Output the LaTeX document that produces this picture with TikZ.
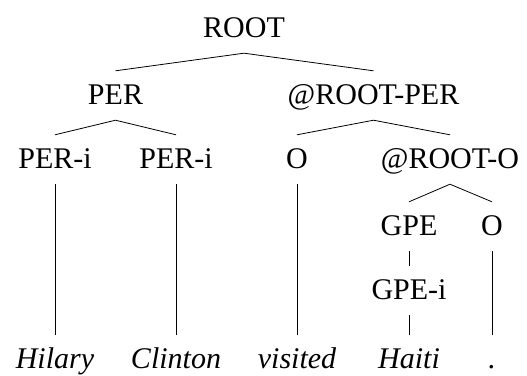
\documentclass[tikz,border=0pt]{standalone}
\usepackage{fontspec}
\setmainfont{Liberation Serif}
\begin{document}
\begin{tikzpicture}[x=1pt,y=-1pt,
  lab/.style={anchor=base,font=\fontsize{30}{36}\selectfont,inner xsep=0pt,inner ysep=8pt,text height=25pt,text depth=8pt},
  word/.style={lab,font=\fontsize{30}{36}\selectfont\itshape},
  edge/.style={draw,line width=0.8pt}]
\useasboundingbox (0,0) rectangle (527,375);
% internal labels
\node[lab] (root) at (244,37) {ROOT};
\node[lab] (per) at (115.5,104) {PER};
\node[lab] (rper) at (373.5,104) {@ROOT-PER};
\node[lab] (peri1) at (55,168) {PER-i};
\node[lab] (peri2) at (176,168) {PER-i};
\node[lab] (o1) at (297,168) {O};
\node[lab] (ro) at (450,168) {@ROOT-O};
\node[lab] (gpe) at (409,235) {GPE};
\node[lab] (o2) at (492,235) {O};
\node[lab] (gpei) at (409,299) {GPE-i};
% words
\node[word] (w1) at (55,368) {Hilary};
\node[word] (w2) at (176,368) {Clinton};
\node[word] (w3) at (297,368) {visited};
\node[word] (w4) at (409,368) {Haiti};
\node[word] (w5) at (492,368) {.};
% branches
\draw[edge] (per.north) -- (root.south) -- (rper.north);
\draw[edge] (peri1.north) -- (per.south) -- (peri2.north);
\draw[edge] (o1.north) -- (rper.south) -- (ro.north);
\draw[edge] (gpe.north) -- (ro.south) -- (o2.north);
\draw[edge] (gpe.south) -- (gpei.north);
\draw[edge] (peri1.south) -- (w1.north);
\draw[edge] (peri2.south) -- (w2.north);
\draw[edge] (o1.south) -- (w3.north);
\draw[edge] (gpei.south) -- (w4.north);
\draw[edge] (o2.south) -- (w5.north);
\end{tikzpicture}
\end{document}
